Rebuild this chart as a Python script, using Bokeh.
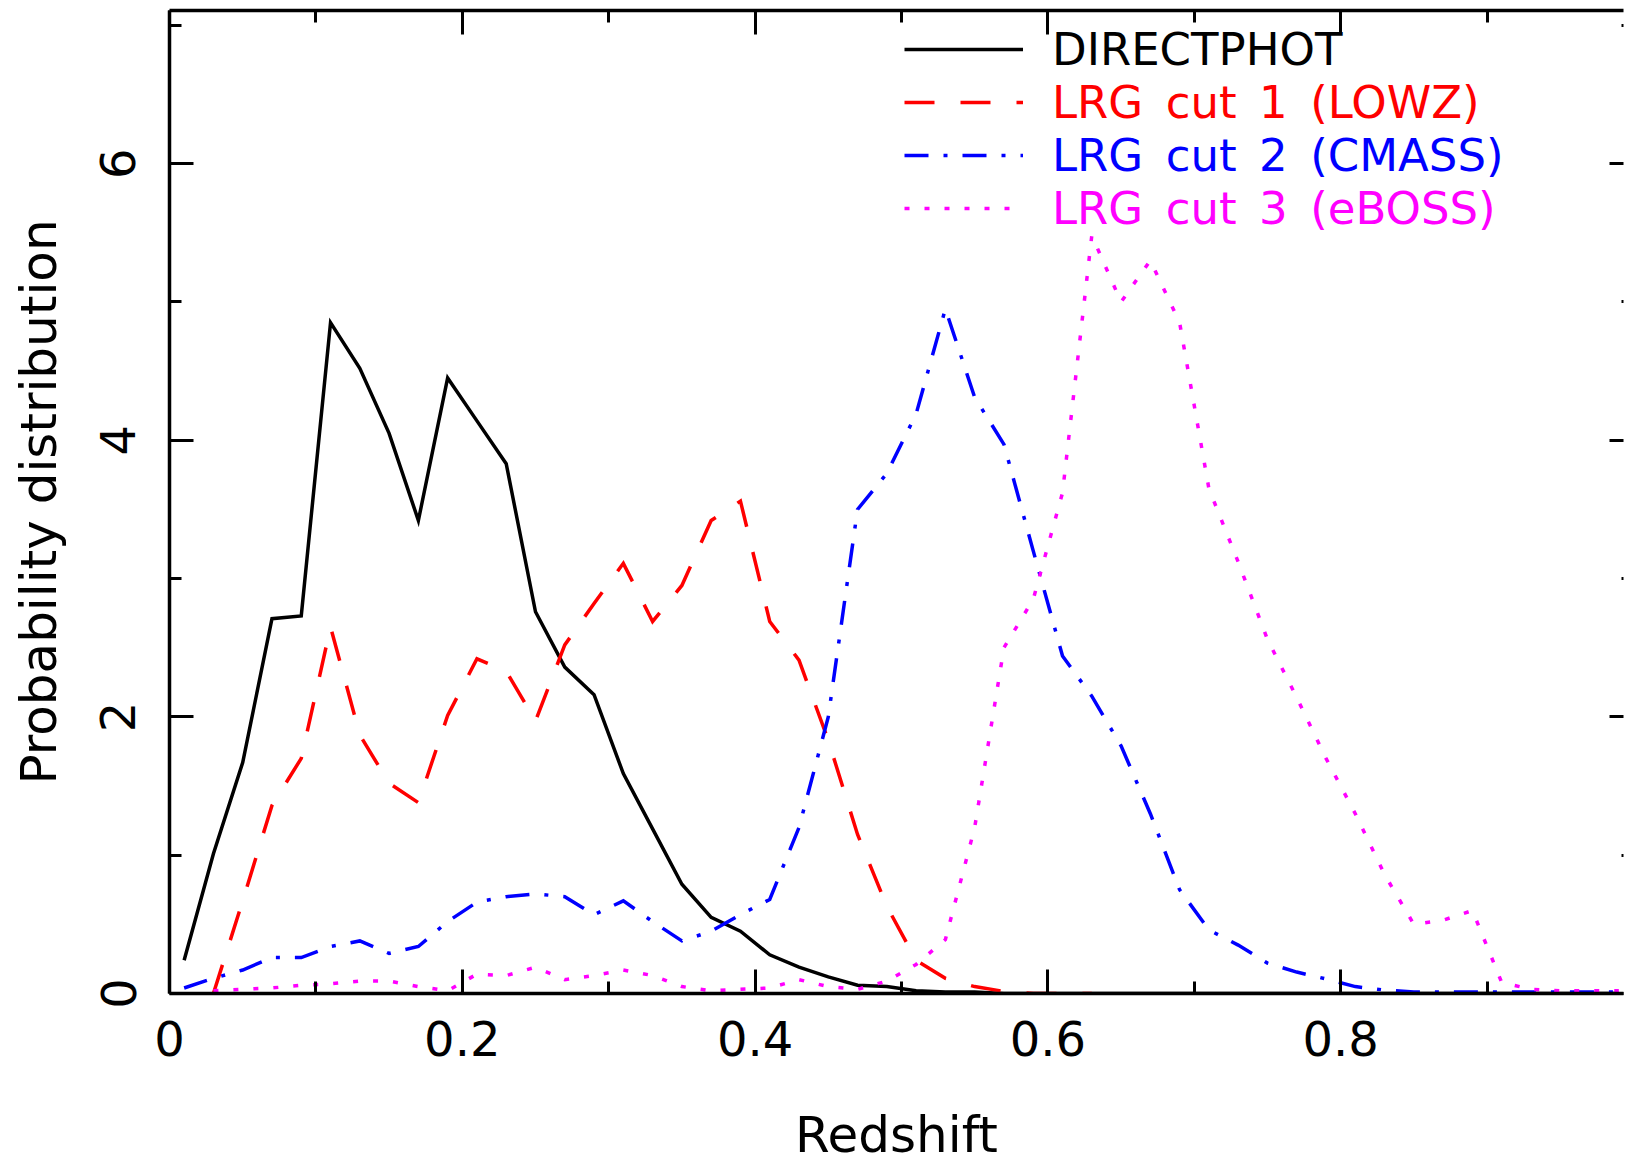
import numpy as np
from bokeh.plotting import figure
from bokeh.models import (Range1d, LinearAxis, FixedTicker, Legend, LegendItem,
                          ColumnDataSource, CustomLabelingPolicy)
from bokeh.embed import file_html
from bokeh.resources import INLINE

nan = float("nan")

# ---------------- data ----------------
redshift = [0.01, 0.03, 0.05, 0.07, 0.09, 0.11, 0.13, 0.15, 0.17, 0.19,
            0.21, 0.23, 0.25, 0.27, 0.29, 0.31, 0.33, 0.35, 0.37, 0.39,
            0.41, 0.43, 0.45, 0.47, 0.49, 0.51, 0.53, 0.55, 0.57, 0.59,
            0.61, 0.63, 0.65, 0.67, 0.69, 0.71, 0.73, 0.75, 0.77, 0.79,
            0.81, 0.83, 0.85, 0.87, 0.89, 0.91, 0.93, 0.95, 0.97, 0.99]

directphot = [0.24, 1.01, 1.67, 2.71, 2.73, 4.85, 4.52, 4.05, 3.42, 4.45,
              4.14, 3.83, 2.76, 2.36, 2.16, 1.59, 1.19, 0.79, 0.55, 0.45,
              0.28, 0.19, 0.12, 0.06, 0.05, 0.02, 0.01, 0.01, 0.0, 0.0,
              0.0, 0.0, 0.0, 0.0, 0.0, 0.0, 0.0, 0.0, 0.0, 0.0,
              0.0, 0.0, 0.0, 0.0, 0.0, 0.0, 0.0, 0.0, 0.0, 0.0]

lrg_lowz = [nan, 0.0, 0.67, 1.36, 1.70, 2.65, 1.87, 1.52, 1.38, 2.01,
            2.42, 2.33, 1.97, 2.52, 2.82, 3.11, 2.69, 2.95, 3.42, 3.56,
            2.69, 2.41, 1.83, 1.15, 0.63, 0.24, 0.11, 0.05, 0.015, 0.0,
            0.0, 0.0, nan, nan, nan, nan, nan, nan, nan, nan,
            nan, nan, nan, nan, nan, nan, nan, nan, nan, nan]

lrg_cmass = [0.04, 0.11, 0.17, 0.26, 0.26, 0.34, 0.38, 0.29, 0.34, 0.52,
             0.66, 0.70, 0.72, 0.70, 0.57, 0.67, 0.52, 0.38, 0.45, 0.57,
             0.68, 1.20, 2.00, 3.50, 3.76, 4.19, 4.95, 4.31, 3.97, 3.20,
             2.44, 2.15, 1.79, 1.30, 0.75, 0.46, 0.35, 0.22, 0.155, 0.105,
             0.05, 0.025, 0.01, 0.01, 0.01, 0.01, 0.01, 0.01, 0.01, 0.01]

lrg_eboss = [nan, 0.02, 0.03, 0.04, 0.06, 0.07, 0.09, 0.09, 0.05, 0.02,
             0.14, 0.13, 0.19, 0.10, 0.13, 0.17, 0.13, 0.05, 0.02, 0.03,
             0.04, 0.10, 0.05, 0.03, 0.09, 0.21, 0.39, 1.20, 2.50, 2.85,
             3.62, 5.48, 5.00, 5.30, 4.85, 3.65, 3.12, 2.56, 2.14, 1.70,
             1.30, 0.86, 0.50, 0.53, 0.60, 0.08, 0.03, 0.02, 0.02, 0.02]

series_names = ["DIRECTPHOT", "LRG cut 1 (LOWZ)", "LRG cut 2 (CMASS)", "LRG cut 3 (eBOSS)"]

x_ticks = [0, 0.2, 0.4, 0.6, 0.8]
x_tick_labels = ["0", "0.2", "0.4", "0.6", "0.8"]
x_minor_ticks = [0.1, 0.3, 0.5, 0.7, 0.9]
y_ticks = [0, 2, 4, 6]
y_tick_labels = ["0", "2", "4", "6"]
y_minor_ticks = [1, 3, 5, 7]

x_title = "Redshift"
y_title = "Probability distribution"

# ---------------- styles ----------------
FONT = "DejaVu Sans"
FS = "48px"
FS_TITLE = "50px"
FS_LEGEND = "45px"
colors = ["#000000", "#ff0000", "#0000ff", "#ff00ff"]
dashes = ["solid", "30 26", "24 15 4 15", "5 15"]

src = ColumnDataSource(dict(
    z=np.array(redshift, dtype=float),
    s0=np.array(directphot, dtype=float),
    s1=np.array(lrg_lowz, dtype=float),
    s2=np.array(lrg_cmass, dtype=float),
    s3=np.array(lrg_eboss, dtype=float),
))

p = figure(width=1627, height=1169, output_backend="svg", toolbar_location=None,
           x_range=Range1d(0, 0.9932), y_range=Range1d(0, 7.107),
           x_axis_location=None, y_axis_location=None,
           min_border_left=169, min_border_right=0, min_border_top=10,
           min_border_bottom=176)
p.outline_line_color = None
p.grid.visible = False
p.background_fill_color = "white"
p.border_fill_color = "white"

no_labels = CustomLabelingPolicy(code="return []")


def style_axis(ax, major_in, minor_in, show_labels=True, show_line=True):
    ax.major_tick_in = major_in
    ax.major_tick_out = 0
    ax.minor_tick_in = minor_in
    ax.minor_tick_out = 0
    ax.major_tick_line_width = 3
    ax.minor_tick_line_width = 3
    ax.major_tick_line_color = "black"
    ax.minor_tick_line_color = "black"
    ax.axis_line_width = 3.5
    ax.axis_line_color = "black" if show_line else None
    ax.major_label_text_font = FONT
    ax.major_label_text_font_size = FS if show_labels else "1px"
    ax.major_label_text_color = "black"
    ax.axis_label_text_font = FONT
    ax.axis_label_text_font_size = FS_TITLE
    ax.axis_label_text_font_style = "normal"
    ax.axis_label_text_color = "black"
    if not show_labels:
        ax.major_label_policy = no_labels
        ax.major_label_standoff = 0


xb = LinearAxis(ticker=FixedTicker(ticks=x_ticks, minor_ticks=x_minor_ticks),
                major_label_overrides=dict(zip(x_ticks, x_tick_labels)),
                axis_label=x_title)
style_axis(xb, 24, 12)
xb.major_label_standoff = 27
xb.axis_label_standoff = 47
p.add_layout(xb, "below")

xt = LinearAxis(ticker=FixedTicker(ticks=x_ticks, minor_ticks=x_minor_ticks))
style_axis(xt, 24, 12, show_labels=False)
p.add_layout(xt, "above")

yl = LinearAxis(ticker=FixedTicker(ticks=y_ticks, minor_ticks=y_minor_ticks),
                major_label_overrides=dict(zip(y_ticks, y_tick_labels)),
                axis_label=y_title)
style_axis(yl, 24, 12)
yl.major_label_orientation = "vertical"
yl.major_label_standoff = 34
yl.axis_label_standoff = 30
p.add_layout(yl, "left")

yr = LinearAxis(ticker=FixedTicker(ticks=y_ticks, minor_ticks=y_minor_ticks))
style_axis(yr, 14, 2, show_labels=False, show_line=False)
p.add_layout(yr, "right")

renderers = []
for col, c, d in zip(["s0", "s1", "s2", "s3"], colors, dashes):
    r = p.line("z", col, source=src, line_color=c, line_width=3.5,
               line_dash=d, line_join="miter")
    renderers.append(r)

# one legend per series so that each label takes its series colour
legend_loc_y = [909, 856, 803, 750]
for name, r, c, ly in zip(series_names, renderers, colors, legend_loc_y):
    shown = name.replace(" ", "\u2002")
    leg = Legend(items=[LegendItem(label=shown, renderers=[r])], location=(735, ly),
                 glyph_width=119, glyph_height=70, label_height=70,
                 label_standoff=29, padding=0, margin=0, spacing=0,
                 border_line_color=None, background_fill_color=None,
                 label_text_font=FONT, label_text_font_size=FS_LEGEND,
                 label_text_color=c)
    p.add_layout(leg)

open("out.html", "w").write(file_html(p, INLINE))
